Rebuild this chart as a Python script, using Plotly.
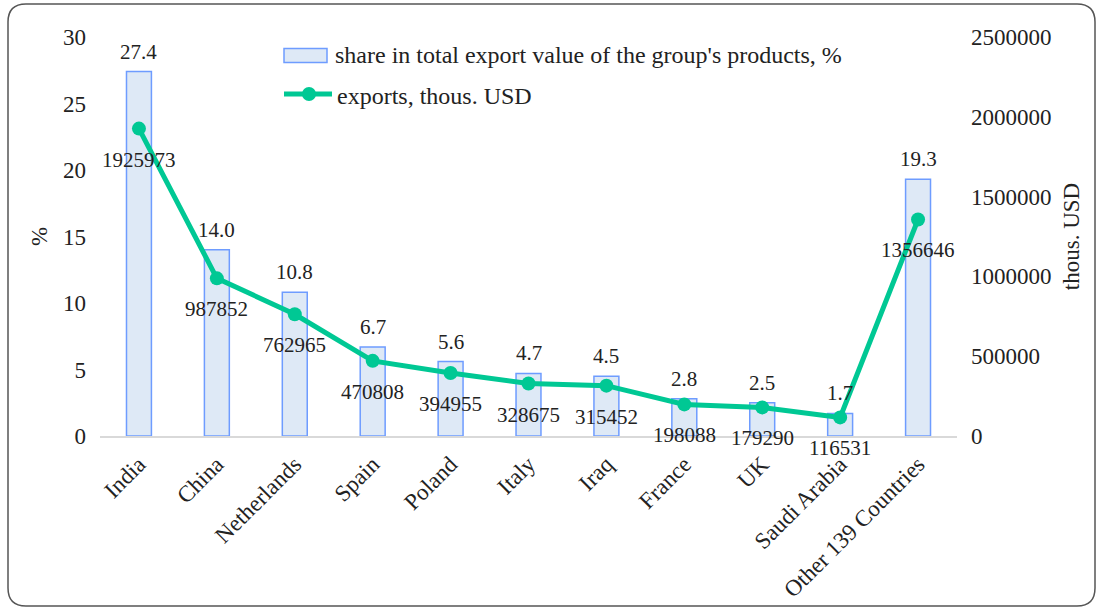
import plotly.graph_objects as go

categories = ["India", "China", "Netherlands", "Spain", "Poland", "Italy", "Iraq",
              "France", "UK", "Saudi Arabia", "Other 139 Countries"]
share_pct = [27.4, 14.0, 10.8, 6.7, 5.6, 4.7, 4.5, 2.8, 2.5, 1.7, 19.3]
exports_usd = [1925973, 987852, 762965, 470808, 394955, 328675, 315452,
               198088, 179290, 116531, 1356646]
bar_name = "share in total export value of the group's products, %"
line_name = "exports, thous. USD"

FONT = "Liberation Serif"
TXT = "#222222"
BAR_FILL, BAR_EDGE, LINE_C = "#DEE9F6", "#6E9CFF", "#00C894"
W, H = 1097, 609
ML, MR, MT, MB = 100, 140, 37, 173

fig = go.Figure()
fig.add_trace(go.Bar(
    x=categories, y=share_pct, name=bar_name,
    marker=dict(color=BAR_FILL, line=dict(color=BAR_EDGE, width=1.5)),
    width=0.32, yaxis="y", showlegend=False,
))
fig.add_trace(go.Scatter(
    x=categories, y=exports_usd, name=line_name, mode="lines+markers",
    line=dict(color=LINE_C, width=5), marker=dict(size=14, color=LINE_C),
    yaxis="y2", showlegend=False,
))

annotations = []
for c, v in zip(categories, share_pct):
    annotations.append(dict(x=c, y=v, xref="x", yref="y", text=f"{v:.1f}", showarrow=False,
                            yanchor="middle", yshift=20, font=dict(family=FONT, size=21, color=TXT)))
for c, v in zip(categories, exports_usd):
    annotations.append(dict(x=c, y=v, xref="x", yref="y2", text=str(v), showarrow=False,
                            yanchor="middle", yshift=-31, font=dict(family=FONT, size=21, color=TXT)))

# pixel -> paper conversion
pw, ph = W - ML - MR, H - MT - MB
def px(x): return (x - ML) / pw
def py(y): return (H - MB - y) / ph

# custom legend
annotations.append(dict(x=px(333), y=py(55), xref="paper", yref="paper", text=bar_name,
                        showarrow=False, xanchor="left", yanchor="middle",
                        font=dict(family=FONT, size=24, color=TXT)))
annotations.append(dict(x=px(335), y=py(96), xref="paper", yref="paper", text=line_name,
                        showarrow=False, xanchor="left", yanchor="middle",
                        font=dict(family=FONT, size=24, color=TXT)))

x0, x1, y0, y1, r = 8, 1095, 4, 606, 18
path = (f"M {px(x0+r)},{py(y0)} L {px(x1-r)},{py(y0)} Q {px(x1)},{py(y0)} {px(x1)},{py(y0+r)} "
        f"L {px(x1)},{py(y1-r)} Q {px(x1)},{py(y1)} {px(x1-r)},{py(y1)} "
        f"L {px(x0+r)},{py(y1)} Q {px(x0)},{py(y1)} {px(x0)},{py(y1-r)} "
        f"L {px(x0)},{py(y0+r)} Q {px(x0)},{py(y0)} {px(x0+r)},{py(y0)} Z")

shapes = [
    dict(type="path", xref="paper", yref="paper", path=path,
         line=dict(color="#555555", width=1.5), layer="below"),
    dict(type="rect", xref="paper", yref="paper", x0=px(284), x1=px(327), y0=py(48.5), y1=py(62.5),
         fillcolor=BAR_FILL, line=dict(color=BAR_EDGE, width=1.5)),
    dict(type="line", xref="paper", yref="paper", x0=px(284), x1=px(332), y0=py(94), y1=py(94),
         line=dict(color=LINE_C, width=5)),
    dict(type="circle", xref="paper", yref="paper", x0=px(302), x1=px(316), y0=py(87), y1=py(101),
         fillcolor=LINE_C, line=dict(color=LINE_C, width=0)),
]

fig.update_layout(
    width=W, height=H,
    margin=dict(l=ML, r=MR, t=MT, b=MB, pad=0, autoexpand=False),
    plot_bgcolor="white", paper_bgcolor="white",
    font=dict(family=FONT, size=23, color=TXT),
    showlegend=False,
    xaxis=dict(type="category", range=[-0.5, len(categories) - 0.5], tickangle=-45,
               showline=True, linecolor="#D9D9D9", linewidth=1.5,
               ticks="", tickfont=dict(family=FONT, size=23, color=TXT), showgrid=False,
               ticklabelstandoff=4, automargin=False),
    yaxis=dict(range=[0, 30], dtick=5, showgrid=False, zeroline=False, showline=False, ticks="",
               tickfont=dict(family=FONT, size=23, color=TXT), ticklabelstandoff=13, automargin=False,
               title=dict(text="%", font=dict(family=FONT, size=23, color=TXT), standoff=8)),
    yaxis2=dict(range=[0, 2500000], dtick=500000, overlaying="y", side="right", showgrid=False,
                zeroline=False, showline=False, ticks="", tickformat="d", automargin=False,
                tickfont=dict(family=FONT, size=23, color=TXT), ticklabelstandoff=13,
                title=dict(text="thous. USD", font=dict(family=FONT, size=23, color=TXT), standoff=12)),
    annotations=annotations,
    shapes=shapes,
)

fig.write_html("out.html", config={"displayModeBar": False},
               post_script="document.body.style.margin='0px';")
